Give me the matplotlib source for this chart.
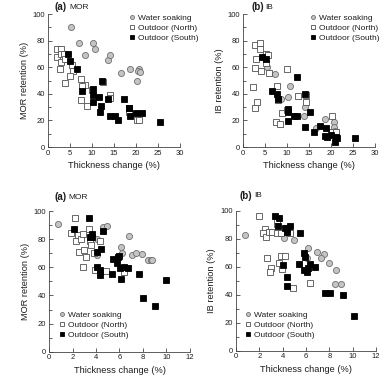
import matplotlib
matplotlib.use('Agg')
import matplotlib.pyplot as plt
from matplotlib.ticker import MultipleLocator

plt.rcParams['font.family'] = ['Liberation Sans', 'DejaVu Sans']

# ---- (a) MOR, top (thickness change up to 30 %)
a1_ws_x = [5.2, 7.1, 8.4, 10.2, 10.6, 13.7, 14.0, 16.6, 18.6, 20.6, 20.5, 20.9, 20.3]
a1_ws_y = [90, 78, 69, 78, 73.5, 65.5, 69, 56, 58.5, 58.5, 57, 56.7, 50]
a1_n_x = [2.1, 3.0, 2.05, 2.9, 3.6, 3.0, 2.7, 3.9, 3.9, 5.5, 5.7, 5.0, 7.5, 8.4, 7.7, 7.4,
          8.9, 9.9, 12.5, 14.1, 14.1, 18.5, 20.3, 20.7]
a1_n_y = [74, 74, 68, 70, 70, 64, 59, 48, 66, 62, 57, 53.5, 51.5, 47, 46, 35,
          31, 43, 49, 39, 37, 26, 20, 20.5]
a1_s_x = [4.5, 4.9, 6.7, 7.8, 10.2, 10.3, 10.3, 11.5, 12.0, 11.8, 12.3, 13.7, 14.2, 15.2,
          15.9, 17.3, 18.5, 18.5, 18.6, 19.9, 21.3, 25.4]
a1_s_y = [70, 64.5, 59, 42, 44, 39.5, 34, 38, 31, 26, 50, 36, 23.5, 23.7,
          20, 36, 29.5, 29, 23, 25.5, 25.5, 18.5]

# ---- (b) IB, top
b1_ws_x = [5.4, 7.3, 8.7, 10.6, 10.3, 14.1, 13.9, 16.7, 18.6, 20.7, 20.7, 20.8, 20.5]
b1_ws_y = [60.5, 55, 36, 46, 38, 30, 23.5, 14.5, 21, 19, 15, 12, 10.5]
b1_n_x = [2.7, 3.9, 3.8, 3.0, 5.2, 5.7, 5.2, 2.7, 4.0, 6.0, 2.2, 3.2, 2.8, 7.7, 8.0, 10.1,
          8.9, 7.4, 8.3, 12.5, 14.3, 14.3, 10.1, 20.3, 20.2, 21.1]
b1_n_y = [77, 78, 73.5, 66, 70, 69, 63, 59.5, 57, 55.5, 45, 33.5, 29.5, 46, 35, 58.5,
          25.5, 19, 17, 38.5, 39, 33.5, 27.5, 23.5, 11, 11]
b1_s_x = [4.3, 5.2, 6.7, 7.8, 8.0, 10.2, 10.2, 10.3, 11.6, 12.3, 12.3, 14.0, 14.2, 15.3,
          16.1, 17.5, 18.8, 18.6, 19.0, 19.9, 21.2, 21.4, 20.9, 25.5]
b1_s_y = [68, 66.5, 42, 40, 36, 28.5, 26.5, 19.5, 23, 23, 53, 40, 15, 26,
          11.5, 16, 14, 8, 7.5, 9, 7.5, 7, 4, 6.5]

# ---- (a) MOR, bottom (thickness change up to 12 %)
a2_ws_x = [0.75, 4.1, 4.05, 4.6, 4.9, 6.85, 6.1, 6.2, 7.1, 7.4, 7.9, 8.4, 8.7, 8.8]
a2_ws_y = [91, 80, 69, 89, 89.5, 82.5, 74.5, 70.5, 68.5, 70.5, 69.5, 65.5, 65, 65]
a2_n_x = [2.2, 1.9, 2.3, 2.5, 2.7, 2.9, 2.55, 3.0, 3.15, 2.9, 3.4, 3.5, 3.6, 3.8, 4.3,
          3.9, 4.3, 4.85, 6.35]
a2_n_y = [95, 84.5, 79, 83, 80, 84, 71, 72, 67.5, 60.5, 87.5, 79, 76, 70.5, 79,
          58, 57, 57.5, 57]
a2_s_x = [2.1, 3.4, 3.5, 3.65, 3.7, 4.1, 4.4, 4.6, 4.05, 4.3, 4.35, 5.35, 5.45, 5.85,
          6.0, 5.8, 6.05, 6.4, 6.7, 6.1, 7.7, 8.0, 9.0, 10.0]
a2_s_y = [87, 95, 81.5, 83.5, 81.5, 71, 73, 86, 60, 58, 54.5, 55, 66, 67.5,
          68, 63, 59.5, 60, 59.5, 51.5, 55, 38, 32.5, 51]

# ---- (b) IB, bottom
b2_ws_x = [0.77, 4.1, 4.6, 5.0, 6.2, 6.1, 6.9, 7.5, 7.3, 8.0, 8.6, 8.5, 9.0]
b2_ws_y = [82.5, 81, 84, 79.5, 73.5, 66.5, 70.5, 69.5, 66.5, 62.5, 57.5, 47.5, 47.5]
b2_n_x = [2.0, 2.5, 2.35, 2.6, 2.85, 3.1, 3.5, 3.5, 3.5, 3.85, 2.65, 3.0, 2.9, 3.65,
          3.85, 4.2, 3.95, 4.6, 4.9, 6.35]
b2_n_y = [96.5, 87, 84, 81.5, 85, 85, 84, 91, 93.5, 84, 66, 59, 56, 63,
          68, 68, 58.5, 84, 45, 48.5]
b2_s_x = [3.35, 3.7, 3.6, 4.2, 4.4, 4.65, 4.4, 5.5, 4.0, 4.4, 4.4, 5.4, 5.8, 5.9, 5.8,
          6.1, 6.2, 6.35, 6.75, 7.65, 8.05, 9.15, 10.15]
b2_s_y = [96.5, 95, 89, 88, 87.5, 89, 85, 84, 61.5, 52.5, 46.5, 62, 70, 67, 58,
          56.5, 59, 62, 60, 41.5, 41.5, 40, 24.5]

labels = ['Water soaking', 'Outdoor (North)', 'Outdoor (South)']
txt = '#1e1e1e'

fig = plt.figure(figsize=(3.83, 3.79), dpi=100)

panels = [
    # rect, data, xmax, xstep, letter, name, ylabel, legend anchor, title offset (px)
    ([0.1253, 0.612, 0.3446, 0.351], (a1_ws_x, a1_ws_y, a1_n_x, a1_n_y, a1_s_x, a1_s_y),
     30, 5, '(a)', 'MOR', 'MOR retention (%)', (0.609, 1.0), (7, 7)),
    ([0.6345, 0.612, 0.3446, 0.351], (b1_ws_x, b1_ws_y, b1_n_x, b1_n_y, b1_s_x, b1_s_y),
     30, 5, '(b)', 'IB', 'IB retention (%)', (0.505, 1.0), (8, 7)),
    ([0.128, 0.072, 0.368, 0.371], (a2_ws_x, a2_ws_y, a2_n_x, a2_n_y, a2_s_x, a2_s_y),
     12, 2, '(a)', 'MOR', 'MOR retention (%)', (0.067, 0.289), (5, 14)),
    ([0.616, 0.0747, 0.366, 0.3686], (b2_ws_x, b2_ws_y, b2_n_x, b2_n_y, b2_s_x, b2_s_y),
     12, 2, '(b)', 'IB', 'IB retention (%)', (0.062, 0.284), (4, 15)),
]

for rect, d, xmax, xstep, letter, name, ylab, anchor, toff in panels:
    ax = fig.add_axes(rect)
    wx, wy, nx, ny, sx, sy = d
    ax.plot(wx, wy, 'o', ms=4.4, mfc='#c4c4c4', mec='#6e6e6e', mew=0.6,
            label=labels[0], clip_on=False)
    ax.plot(nx, ny, 's', ms=3.9, mfc='white', mec='#505050', mew=0.6,
            label=labels[1], clip_on=False)
    ax.plot(sx, sy, 's', ms=3.9, mfc='black', mec='black', mew=0.6,
            label=labels[2], clip_on=False)

    ax.set_xlim(0, xmax)
    ax.set_ylim(0, 100)
    ax.xaxis.set_major_locator(MultipleLocator(xstep))
    ax.yaxis.set_major_locator(MultipleLocator(20))
    ax.yaxis.set_minor_locator(MultipleLocator(10))
    for s in ['top', 'right']:
        ax.spines[s].set_visible(False)
    for s in ['left', 'bottom']:
        ax.spines[s].set_linewidth(0.6)
        ax.spines[s].set_color('#444444')
    ax.tick_params(which='both', direction='in', width=0.6, color='#444444',
                   labelsize=5.5, labelcolor=txt, pad=2)
    ax.tick_params(which='major', length=3)
    ax.tick_params(which='minor', length=2)
    ax.set_xlabel('Thickness change (%)', fontsize=6.7, color=txt, labelpad=3)
    ax.set_ylabel(ylab, fontsize=6.7, color=txt, labelpad=3)

    # panel title: bold letter followed by the property name
    px = 72.0 / 100
    ax.annotate(letter, xy=(0, 1), xycoords='axes fraction',
                xytext=(toff[0] * px, toff[1] * px), textcoords='offset points',
                fontsize=7, fontweight='bold', color=txt, va='center', ha='left')
    ax.annotate(name, xy=(0, 1), xycoords='axes fraction',
                xytext=((toff[0] + 14) * px, toff[1] * px), textcoords='offset points',
                fontsize=6, color=txt, va='center', ha='left')

    ax.legend(loc='upper left', bbox_to_anchor=anchor, frameon=False, fontsize=6,
              markerscale=0.65, handlelength=0.8, handletextpad=0.36,
              labelspacing=0.24, borderpad=0, borderaxespad=0,
              labelcolor=txt)

fig.savefig('out.png', dpi=100)
